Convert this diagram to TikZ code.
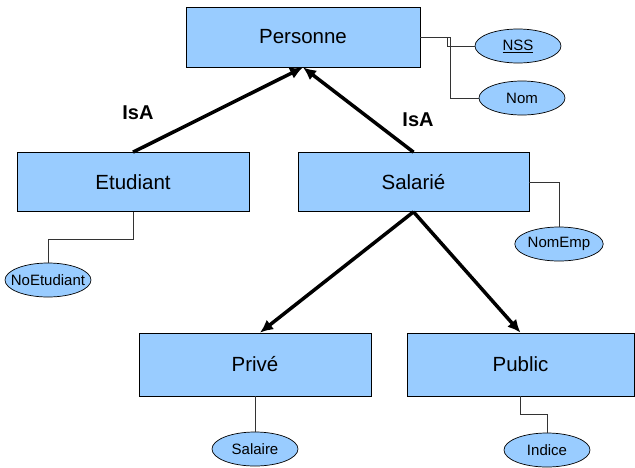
\documentclass[tikz,border=0pt]{standalone}
\usepackage{fontspec}
\setmainfont{Liberation Sans}
\usepackage{tikz}
\usetikzlibrary{shapes,arrows.meta,positioning}
\definecolor{boxblue}{HTML}{99CCFF}

\begin{document}
\begin{tikzpicture}
     [x=1pt, y=-1pt,
      entity/.style={draw, fill=boxblue, line width=0.7pt, minimum width=232pt,
                     minimum height=59pt, inner sep=0pt, font=\fontsize{20.5}{24}\selectfont},
      attr/.style={draw, fill=boxblue, ellipse, line width=0.7pt, minimum width=86pt,
                   minimum height=34pt, inner sep=0pt, font=\fontsize{15}{17}\selectfont},
      isa/.style={line width=3.5pt, -{Latex[length=13pt,width=12pt]}},
      link/.style={line width=0.6pt, draw=black!80},
      lbl/.style={font=\bfseries\fontsize{20}{24}\selectfont}]
   \useasboundingbox (0,0) rectangle (635,467);
   % entities
   \node (PERS) [entity, minimum width=234pt, minimum height=60pt] at (303,37) {Personne};
   \node (ETU) [entity] at (133,182) {Etudiant};
   \node (SAL) [entity, minimum width=231pt] at (413.5,182) {Salarié};
   \node (PRIV) [entity, minimum height=63pt] at (255,364.5) {Privé};
   \node (PUB) [entity, minimum width=227pt, minimum height=63pt] at (520.5,364.5) {Public};
   % attributes
   \node (NSS) [attr] at (518,46) {\underline{NSS}};
   \node (NOM) [attr] at (522,98) {Nom};
   \node (NOETU) [attr, inner xsep=-7pt] at (48,280) {NoEtudiant};
   \node (NOMEMP) [attr, minimum width=84pt] at (559,244) {NomEmp};
   \node (SALR) [attr] at (255,449) {Salaire};
   \node (IND) [attr] at (547,450) {Indice};
   % isa links
   \draw[isa] (ETU.north) -- (PERS.south);
   \draw[isa] (SAL.north) -- (PERS.south);
   \draw[isa] (SAL.south) -- ([xshift=5pt]PRIV.north);
   \draw[isa] (SAL.south) -- (PUB.north);
   \node (ISA1) [lbl] at (138,113) {IsA};
   \node (ISA2) [lbl] at (418,120) {IsA};
   % attribute links
   \draw[link] (PERS.east) -- ++(27,0) |- (NSS.west);
   \draw[link] (PERS.east) -- ++(30,0) |- (NOM.west);
   \draw[link] (ETU.south) -- ++(0,27) -| (NOETU.north);
   \draw[link] (SAL.east) -| (NOMEMP.north);
   \draw[link] (PRIV.south) -- (SALR.north);
   \draw[link] (PUB.south) -- ++(0,18) -| (IND.north);
\end{tikzpicture}
\end{document}
